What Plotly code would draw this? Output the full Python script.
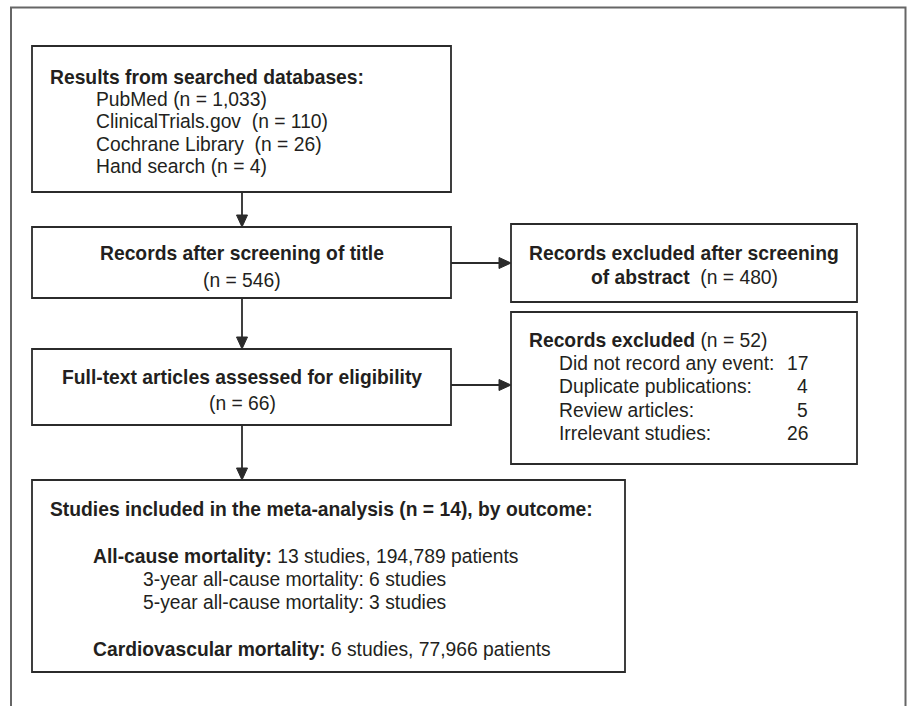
import plotly.graph_objects as go

# ---------------- data ----------------
database_names = ["PubMed", "ClinicalTrials.gov ", "Cochrane Library ", "Hand search"]
database_counts = ["1,033", "110", "26", "4"]

after_title_n = 546
excluded_abstract_n = 480
fulltext_n = 66
excluded_fulltext_n = 52
exclusion_reasons = ["Did not record any event:", "Duplicate publications:", "Review articles:", "Irrelevant studies:"]
exclusion_counts = [17, 4, 5, 26]

included_n = 14
allcause_studies = 13
allcause_patients = "194,789"
allcause_sub_labels = ["3-year all-cause mortality:", "5-year all-cause mortality:"]
allcause_sub_studies = [6, 3]
cv_studies = 6
cv_patients = "77,966"

# ---------------- styling ----------------
W, H = 912, 706
FONT = "Liberation Sans, Arial, Helvetica, sans-serif"
FS = 19.3
TXT = "#231f20"
BOX = "#2b2b2b"
BW = 1.8

fig = go.Figure()
shapes = []
annotations = []


def box(x0, y0, x1, y1):
    shapes.append(dict(type="rect", xref="x", yref="y", x0=x0, y0=y0, x1=x1, y1=y1,
                       line=dict(color=BOX, width=BW), fillcolor="rgba(0,0,0,0)", layer="above"))


def arrow(x0, y0, x1, y1):
    # line + filled triangular head at (x1, y1)
    L, hw = 12, 5.5
    if x0 == x1:
        d = 1 if y1 > y0 else -1
        shapes.append(dict(type="line", xref="x", yref="y", x0=x0, y0=y0, x1=x1, y1=y1 - d * L,
                           line=dict(color=BOX, width=BW)))
        path = f"M {x1} {y1} L {x1 - hw} {y1 - d * L} L {x1 + hw} {y1 - d * L} Z"
    else:
        d = 1 if x1 > x0 else -1
        shapes.append(dict(type="line", xref="x", yref="y", x0=x0, y0=y0, x1=x1 - d * L, y1=y1,
                           line=dict(color=BOX, width=BW)))
        path = f"M {x1} {y1} L {x1 - d * L} {y1 - hw} L {x1 - d * L} {y1 + hw} Z"
    shapes.append(dict(type="path", xref="x", yref="y", path=path,
                       fillcolor=BOX, line=dict(color=BOX, width=1)))


def text(x, y, s, anchor="left"):
    annotations.append(dict(x=x, y=y, xref="x", yref="y", text=s, showarrow=False,
                            xanchor=anchor, yanchor="middle",
                            font=dict(family=FONT, size=FS, color=TXT)))


# outer frame (runs off the bottom of the page)
shapes.append(dict(type="rect", xref="x", yref="y", x0=11, y0=7.5, x1=905.5, y1=740,
                   line=dict(color="#666666", width=2), fillcolor="rgba(0,0,0,0)"))

# Box 1: search results
box(32, 46, 451, 192)
text(48, 77, "<b>Results from searched databases:</b>")
for i, (nm, c) in enumerate(zip(database_names, database_counts)):
    text(94, 99 + i * 22.6, f"{nm} (n = {c})")

arrow(242, 192, 242, 227)

# Box 2: after title screening
box(32, 227, 451, 298)
text(242, 253, "<b>Records after screening of title</b>", "center")
text(242, 280, f"(n = {after_title_n})", "center")

arrow(451, 263, 511, 263)

# Box 3: excluded after abstract screening
box(511, 224, 857, 302)
text(684, 253, "<b>Records excluded after screening</b>", "center")
text(684, 277, f"<b>of abstract</b>  (n = {excluded_abstract_n})", "center")

arrow(242, 298, 242, 349)

# Box 4: full text
box(32, 349, 451, 425)
text(242, 377, "<b>Full-text articles assessed for eligibility</b>", "center")
text(242, 403, f"(n = {fulltext_n})", "center")

arrow(451, 385, 511, 385)

# Box 5: records excluded
box(511, 312, 857, 464)
text(527, 340, f"<b>Records excluded</b> (n = {excluded_fulltext_n})")
for i, (r, c) in enumerate(zip(exclusion_reasons, exclusion_counts)):
    yy = 363 + i * 23.6
    text(557, yy, r)
    text(810, yy, str(c), "right")

arrow(242, 425, 242, 480)

# Box 6: included studies
box(32, 480, 625, 672)
text(48, 509, f"<b>Studies included in the meta-analysis (n = {included_n}), by outcome:</b>")
text(91, 556, f"<b>All-cause mortality:</b> {allcause_studies} studies, {allcause_patients} patients")
for i, (lab, n) in enumerate(zip(allcause_sub_labels, allcause_sub_studies)):
    text(141, 579 + i * 23.5, f"{lab} {n} studies")
text(91, 649, f"<b>Cardiovascular mortality:</b> {cv_studies} studies, {cv_patients} patients")

fig.update_layout(
    width=W, height=H,
    margin=dict(l=0, r=0, t=0, b=0),
    paper_bgcolor="white", plot_bgcolor="white",
    xaxis=dict(range=[0, W], visible=False, fixedrange=True),
    yaxis=dict(range=[H, 0], visible=False, fixedrange=True),
    shapes=shapes, annotations=annotations, showlegend=False,
)

fig.write_html(
    "out.html",
    config={"displayModeBar": False},
    post_script="document.body.style.margin='0';document.body.style.overflow='hidden';",
)
